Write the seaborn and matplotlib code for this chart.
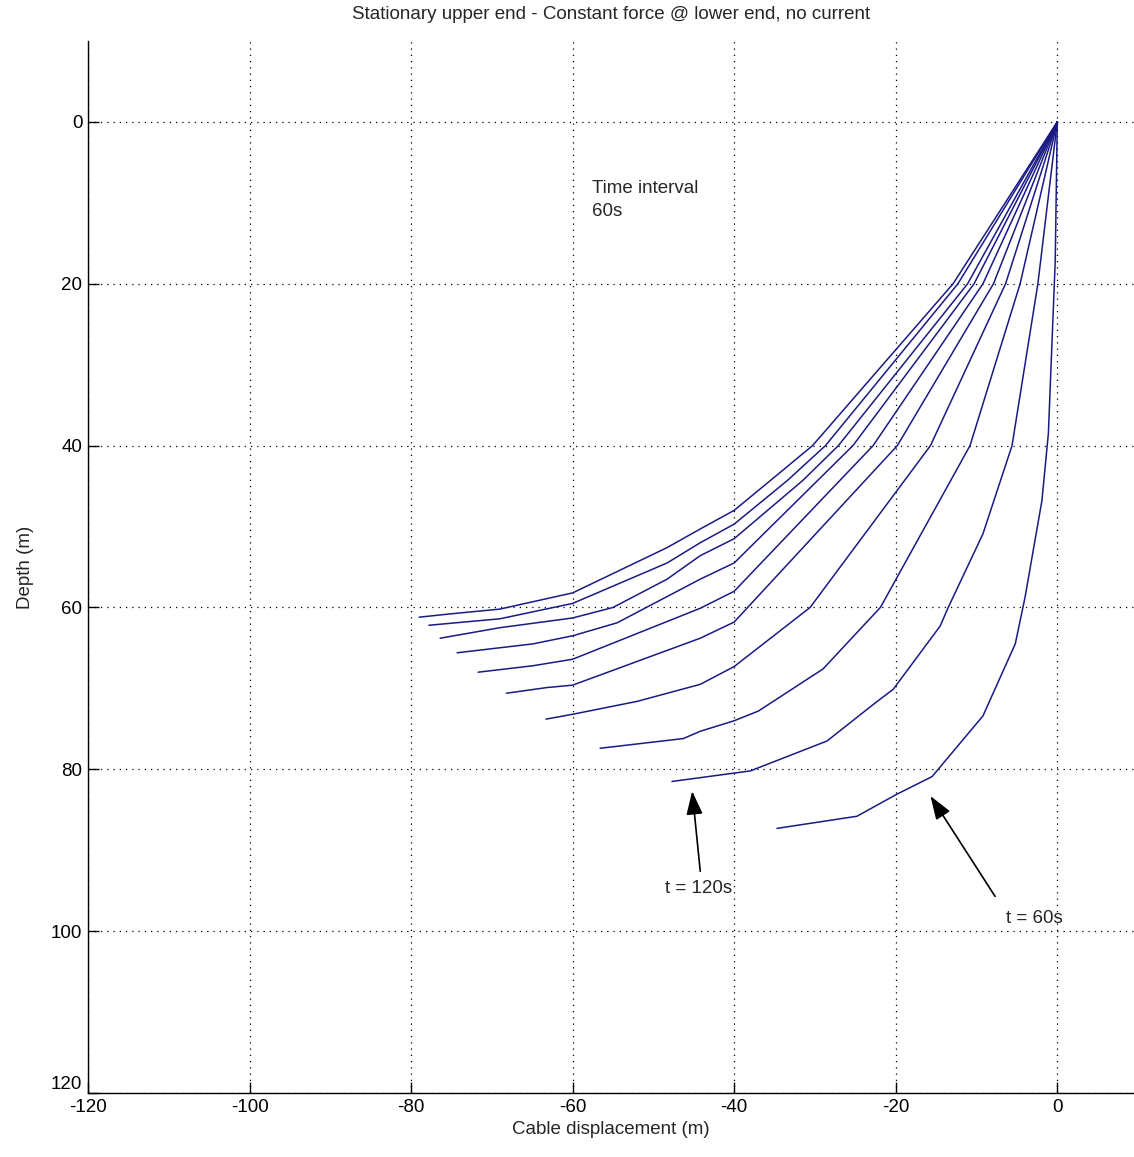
import pandas as pd
import matplotlib
matplotlib.use("Agg")
import matplotlib.pyplot as plt
import seaborn as sns

# cable shape (x = displacement, depth), one pair per time step
t060_x = [0, -0.25, -1.1, -1.9, -4.0, -5.2, -9.2, -15.5, -19.9, -24.8, -34.7]
t060_y = [0, 17.1, 38.5, 46.8, 58.8, 64.5, 73.4, 80.9, 83.1, 85.8, 87.3]
t120_x = [0, -2.4, -5.6, -9.2, -13.5, -14.5, -20.3, -22.8, -28.5, -38.0, -47.7]
t120_y = [0, 20, 40, 50.9, 60, 62.3, 70.1, 72.0, 76.5, 80.2, 81.5]
t180_x = [0, -4.6, -10.8, -21.9, -29.0, -37.0, -40.0, -44.2, -46.3, -56.6]
t180_y = [0, 20, 40, 60, 67.6, 72.8, 74.0, 75.3, 76.2, 77.4]
t240_x = [0, -6.4, -15.7, -30.6, -40.0, -44.2, -52.0, -60.0, -63.3]
t240_y = [0, 20, 40, 60, 67.3, 69.5, 71.6, 73.2, 73.8]
t300_x = [0, -7.9, -19.8, -40.0, -44.2, -60.0, -63.2, -68.2]
t300_y = [0, 20, 40, 61.8, 63.8, 69.6, 69.9, 70.6]
t360_x = [0, -9.2, -22.8, -40.0, -44.2, -60.0, -64.9, -71.7]
t360_y = [0, 20, 40, 58.0, 60.1, 66.4, 67.2, 68.0]
t420_x = [0, -10.3, -25.3, -40.0, -44.2, -54.5, -60.0, -64.9, -74.3]
t420_y = [0, 20, 40, 54.5, 56.5, 61.9, 63.5, 64.5, 65.6]
t480_x = [0, -11.1, -27.1, -31.5, -40.0, -44.2, -48.3, -55.0, -60.0, -69.0, -76.4]
t480_y = [0, 20, 40, 44.3, 51.5, 53.6, 56.5, 60.0, 61.3, 62.5, 63.8]
t540_x = [0, -12.3, -28.7, -33.4, -40.0, -44.2, -48.3, -60.0, -69.0, -77.8]
t540_y = [0, 20, 40, 44.3, 49.7, 52.0, 54.5, 59.5, 61.4, 62.2]
t600_x = [0, -12.9, -30.3, -35.5, -40.0, -44.2, -48.3, -60.0, -69.0, -75.2, -79.0]
t600_y = [0, 20, 40, 44.3, 48.0, 50.3, 52.6, 58.2, 60.2, 60.8, 61.2]

x_ticks = [-120, -100, -80, -60, -40, -20, 0]
y_ticks = [0, 20, 40, 60, 80, 100, 120]


def main():
    curves = {
        60: (t060_x, t060_y), 120: (t120_x, t120_y), 180: (t180_x, t180_y),
        240: (t240_x, t240_y), 300: (t300_x, t300_y), 360: (t360_x, t360_y),
        420: (t420_x, t420_y), 480: (t480_x, t480_y), 540: (t540_x, t540_y),
        600: (t600_x, t600_y),
    }
    frames = []
    for t, (xs, ys) in curves.items():
        frames.append(pd.DataFrame({"x": xs, "depth": ys, "t": t}))
    df = pd.concat(frames, ignore_index=True)

    sns.set_style("white")
    plt.rcParams["font.family"] = ["Liberation Sans", "DejaVu Sans"]
    plt.rcParams["axes.unicode_minus"] = False
    fs = 13.5

    fig = plt.figure(figsize=(11.34, 11.57), dpi=100)
    ax = fig.add_axes([88 / 1134, 64 / 1157, 1 - 88 / 1134, 1052 / 1157])

    sns.lineplot(data=df, x="x", y="depth", units="t", estimator=None, sort=False,
                 color="#1a1a85", linewidth=1.1, ax=ax)

    ax.set_xlim(-120, 9.5)
    ax.set_ylim(120, -10)
    ax.set_xticks(x_ticks)
    ax.set_yticks(y_ticks)
    ax.grid(True, color="k", linestyle=(0, (1, 4)), linewidth=0.9)
    for s in ["top", "right"]:
        ax.spines[s].set_visible(False)
    for s in ["left", "bottom"]:
        ax.spines[s].set_color("k")
        ax.spines[s].set_linewidth(1.0)
    ax.tick_params(direction="in", length=8, width=1, colors="k", labelsize=fs,
                   left=True, bottom=True, pad=4)
    # MATLAB draws the bottom "120" just above the corner
    ax.get_yticklabels()[-1].set_verticalalignment("bottom")

    ax.set_title("Stationary upper end - Constant force @ lower end, no current",
                 fontsize=fs, pad=16)
    ax.set_xlabel("Cable displacement (m)", fontsize=fs, labelpad=4)
    ax.set_ylabel("Depth (m)", fontsize=fs, labelpad=12)

    ax.text(-57.6, 9.7, "Time interval\n60s", fontsize=fs, va="center", ha="left",
            linespacing=1.45)

    arrow = dict(arrowstyle="-|>,head_length=0.8,head_width=0.28", color="k",
                 lw=1.2, mutation_scale=18, shrinkA=0, shrinkB=0)
    ax.annotate("", xy=(-45.2, 82.7), xytext=(-44.2, 92.6), arrowprops=arrow)
    ax.text(-48.6, 94.7, "t = 120s", fontsize=fs, va="center", ha="left")
    ax.annotate("", xy=(-15.7, 83.3), xytext=(-7.7, 95.7), arrowprops=arrow)
    ax.text(-6.4, 98.4, "t = 60s", fontsize=fs, va="center", ha="left")

    fig.savefig("out.png", dpi=100)


if __name__ == "__main__":
    main()
